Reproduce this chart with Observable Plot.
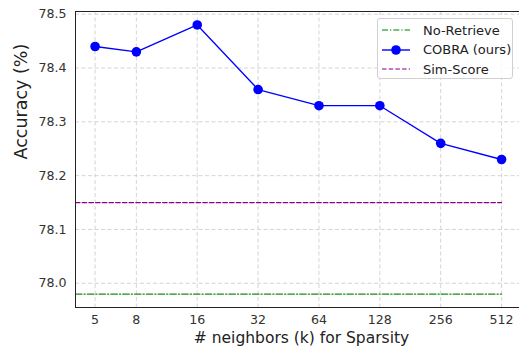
<!DOCTYPE html>
<html>
<head>
<meta charset="utf-8">
<script src="https://cdn.jsdelivr.net/npm/d3@7"></script>
<script src="https://cdn.jsdelivr.net/npm/@observablehq/plot@0.6"></script>
<style>
  html, body { margin: 0; padding: 0; background: #fff; overflow: hidden; }
  #wrap { position: relative; width: 519px; height: 353px; font-family: "DejaVu Sans", sans-serif; }
  #legend { position: absolute; left: 377px; top: 18px; width: 136px; height: 61px;
    border: 1px solid #d0d0d0; border-radius: 3px; background: rgba(255,255,255,0.85);
    box-sizing: border-box; }
  .row { position: absolute; left: 0; height: 18px; display: flex; align-items: center; }
  .row span { font-size: 13px; color: #222; margin-left: 9px; white-space: nowrap; }
</style>
</head>
<body>
<div id="wrap"></div>
<script>
// ---- data ----
const neighbors = [5, 8, 16, 32, 64, 128, 256, 512];
const cobra = [78.44, 78.43, 78.48, 78.36, 78.33, 78.33, 78.26, 78.23];
const noRetrieve = 77.98;
const simScore = 78.15;
const yTicks = [78.0, 78.1, 78.2, 78.3, 78.4, 78.5];
const xLabel = "# neighbors (k) for Sparsity";
const yLabel = "Accuracy (%)";
const seriesNames = ["No-Retrieve", "COBRA (ours)", "Sim-Score"];
const seriesColors = ["#1a8a1a", "#0000ff", "#8b008b"];
const legendColors = ["#4caf50", "#0000ff", "#b050b0"];
const xDomain = [4, 628];
const yDomain = [77.955, 78.505];

const cobraData = neighbors.map((k, i) => ({k, acc: cobra[i]}));
const noRetData = [xDomain[0], neighbors[neighbors.length - 1]].map(k => ({k, acc: noRetrieve}));
const simData = [xDomain[0], neighbors[neighbors.length - 1]].map(k => ({k, acc: simScore}));

const plot = Plot.plot({
  width: 519,
  height: 353,
  marginLeft: 75,
  marginTop: 11,
  marginBottom: 46,
  marginRight: 0,
  style: { fontFamily: "DejaVu Sans, sans-serif", background: "#fff", color: "#333" },
  x: { type: "log", domain: xDomain, axis: null },
  y: { domain: yDomain, axis: null },
  marks: [
    Plot.gridX(neighbors, { stroke: "#d0d0d0", strokeOpacity: 1, strokeDasharray: "4,2.5", strokeWidth: 0.9 }),
    Plot.gridY(yTicks, { stroke: "#d0d0d0", strokeOpacity: 1, strokeDasharray: "4,2.5", strokeWidth: 0.9 }),
    Plot.text(neighbors, { x: d => d, frameAnchor: "bottom", dy: 16, text: d => String(d), fontSize: 12.6, fill: "#333" }),
    Plot.text(yTicks, { y: d => d, frameAnchor: "left", dx: -9, textAnchor: "end", text: d => d3.format(".1f")(d), fontSize: 12.6, fill: "#333" }),
    Plot.text([xLabel], { frameAnchor: "bottom", dx: 4, dy: 35, text: d => d, fontSize: 15.5, fill: "#222" }),
    Plot.text([yLabel], { frameAnchor: "left", dx: -54, rotate: -90, text: d => d, fontSize: 17.5, fill: "#222" }),
    Plot.line(noRetData, { x: "k", y: "acc", stroke: seriesColors[0], strokeWidth: 1.3, strokeDasharray: "6.5,2,1.3,2" }),
    Plot.line(simData, { x: "k", y: "acc", stroke: seriesColors[2], strokeWidth: 1.3, strokeDasharray: "4.5,2.2" }),
    Plot.line(cobraData, { x: "k", y: "acc", stroke: seriesColors[1], strokeWidth: 1.3 }),
    Plot.dot(cobraData, { x: "k", y: "acc", r: 4.8, fill: seriesColors[1], stroke: "none" }),
    Plot.ruleX([xDomain[0]], { stroke: "#222", strokeWidth: 1 }),
    Plot.ruleY([yDomain[0]], { stroke: "#222", strokeWidth: 1 }),
    Plot.ruleY([yDomain[1]], { stroke: "#222", strokeWidth: 1 })
  ]
});
const wrap = document.getElementById("wrap");
wrap.appendChild(plot);

// ---- legend ----
const dashes = ["6,2,1.3,2", null, "4.5,2.2"];
const legend = document.createElement("div");
legend.id = "legend";
seriesNames.forEach((name, i) => {
  const row = document.createElement("div");
  row.className = "row";
  row.style.top = (2 + i * 19.5) + "px";
  const svgNS = "http://www.w3.org/2000/svg";
  const s = document.createElementNS(svgNS, "svg");
  s.setAttribute("width", "36"); s.setAttribute("height", "18");
  const ln = document.createElementNS(svgNS, "line");
  ln.setAttribute("x1", "4"); ln.setAttribute("x2", "32");
  ln.setAttribute("y1", "9"); ln.setAttribute("y2", "9");
  ln.setAttribute("stroke", legendColors[i]); ln.setAttribute("stroke-width", "1.4");
  if (dashes[i]) ln.setAttribute("stroke-dasharray", dashes[i]);
  s.appendChild(ln);
  if (!dashes[i]) {
    const c = document.createElementNS(svgNS, "circle");
    c.setAttribute("cx", "18"); c.setAttribute("cy", "9"); c.setAttribute("r", "4.8");
    c.setAttribute("fill", legendColors[i]);
    s.appendChild(c);
  }
  row.appendChild(s);
  const t = document.createElement("span");
  t.textContent = name;
  row.appendChild(t);
  legend.appendChild(row);
});
wrap.appendChild(legend);
</script>
</body>
</html>
